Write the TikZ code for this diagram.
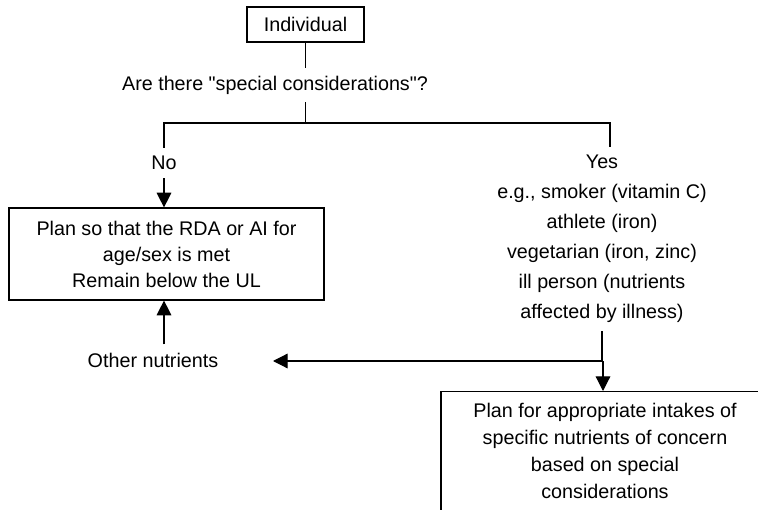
\documentclass[tikz,border=0pt]{standalone}
\usepackage{fontspec}
\setmainfont{Liberation Sans}
\usetikzlibrary{arrows.meta}

\begin{document}
\begin{tikzpicture}[
    x=0.75pt, y=-0.75pt,
    every node/.style={font=\fontsize{14.8}{22.5}\selectfont},
    box/.style={rectangle, draw, line width=0.9pt, align=center, inner sep=0pt},
    plaintext/.style={align=center, inner sep=6pt},
    arrow/.style={-{Triangle[length=11pt,width=11pt]}, line width=0.9pt},
    link/.style={line width=0.9pt}
]

% Page
\useasboundingbox (0,0) rectangle (758,510);
\clip (0,0) rectangle (758,510);

% Start and question
\node[box, minimum width=87.75pt, minimum height=26.25pt] (individual) at (305.5,24.5) {Individual};
\node[plaintext] (question) at (275,85) {Are there \textquotedbl special considerations\textquotedbl ?};

% Branch labels
\node[plaintext] (no) at (164,163) {No};
\node[plaintext] (yes) at (602,239) {Yes\\e.g., smoker (vitamin C)\\athlete (iron)\\vegetarian (iron, zinc)\\ill person (nutrients\\affected by illness)};
\node[plaintext] (other) at (153,360) {Other nutrients};

% Plans
\node[box, minimum width=236.25pt, minimum height=69pt, font=\fontsize{14.8}{19.5}\selectfont] (plan) at (166.5,254) {Plan so that the RDA or AI for\\age/sex is met\\Remain below the UL};
\node[box, anchor=north, minimum width=246pt, inner ysep=9pt, font=\fontsize{14.8}{20.25}\selectfont] (concern) at (605,391) {Plan for appropriate intakes of\\specific nutrients of concern\\based on special\\considerations};

% Fork points
\coordinate (fork) at (305.5,123);
\coordinate (forkright) at (610,123);
\coordinate (split) at (603,361);
\coordinate (tip) at (273,361);

% Question fork
\draw[link] (individual.south) -- (individual.south |- question.north);
\draw[link] (question.south -| individual.south) -- (fork);
\draw[link] (no.north) -- (no.north |- fork) -- (forkright) -- (forkright |- yes.north);

% No branch
\draw[arrow] (no.south) -- (no.south |- plan.north);
\draw[arrow] (no.south |- other.north) -- (no.south |- plan.south);

% Yes branch
\draw[link] (yes.south) -- (yes.south |- split);
\draw[arrow] (split) -- (tip);
\draw[arrow] (split) -- (split |- concern.north);

\end{tikzpicture}
\end{document}
